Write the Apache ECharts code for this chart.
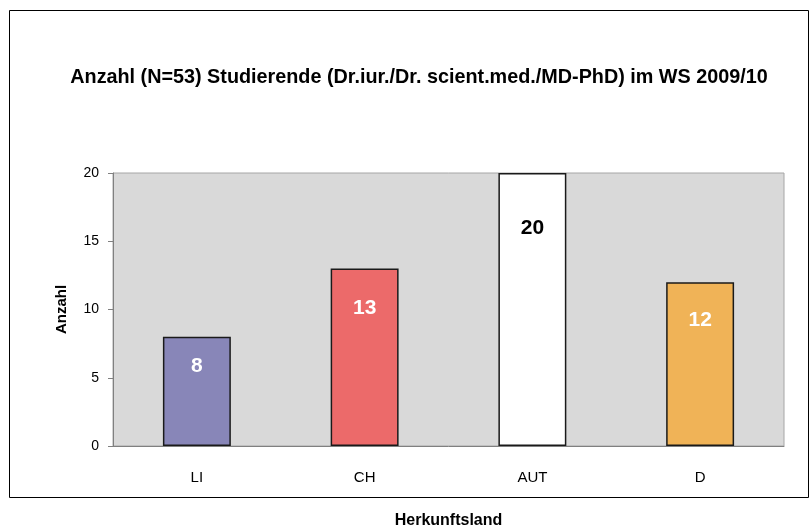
<!DOCTYPE html>
<html><head><meta charset="utf-8">
<script src="https://cdn.jsdelivr.net/npm/echarts@6/dist/echarts.min.js"></script>
<style>html,body{margin:0;padding:0;background:#fff}#c{width:811px;height:527px}</style>
</head><body><div id="c"></div>
<script>
const categories = ['LI', 'CH', 'AUT', 'D'];
const values = [8, 13, 20, 12];
const barColors = ['#8886B8', '#EC6A6A', '#FFFFFF', '#F0B357'];
const labelColors = ['#FFFFFF', '#FFFFFF', '#000000', '#FFFFFF'];
const yTicks = [0, 5, 10, 15, 20];

const chart = echarts.init(document.getElementById('c'), null, {renderer: 'canvas'});
const font = '"Liberation Sans", Arial, sans-serif';
chart.setOption({
  animation: false,
  backgroundColor: '#fff',
  textStyle: {fontFamily: font},
  title: {
    text: 'Anzahl (N=53) Studierende (Dr.iur./Dr. scient.med./MD-PhD) im WS 2009/10',
    left: 414, top: 63, textAlign: 'center',
    textStyle: {fontFamily: font, fontSize: 19.8, fontWeight: 'bold', color: '#000'}
  },
  graphic: [{
    type: 'rect', shape: {x: 9.5, y: 10.5, width: 799, height: 487},
    style: {fill: 'none', stroke: '#000', lineWidth: 1}, silent: true, z: -1
  }],
  grid: {left: 113, top: 173, right: 27, bottom: 81, show: true,
    outerBoundsMode: 'none', containLabel: false,
    backgroundColor: '#D9D9D9', borderColor: '#A6A6A6', borderWidth: 1},
  xAxis: {
    type: 'category', data: categories,
    name: 'Herkunftsland', nameLocation: 'middle', nameGap: 67,
    nameTextStyle: {fontFamily: font, fontSize: 16, fontWeight: 'bold', color: '#000'},
    axisLine: {lineStyle: {color: '#808080', width: 1}},
    axisTick: {show: false},
    axisLabel: {fontFamily: font, fontSize: 15, color: '#000', margin: 24}
  },
  yAxis: {
    type: 'value', min: yTicks[0], max: yTicks[yTicks.length - 1], interval: 5,
    name: 'Anzahl', nameLocation: 'middle', nameGap: 44, nameRotate: 90,
    nameTextStyle: {fontFamily: font, fontSize: 15, fontWeight: 'bold', color: '#000'},
    axisLine: {show: true, lineStyle: {color: '#808080', width: 1}},
    axisTick: {show: true, length: 5, lineStyle: {color: '#808080'}},
    splitLine: {show: false},
    axisLabel: {fontFamily: font, fontSize: 14, color: '#000', margin: 14}
  },
  series: [{
    type: 'bar', barWidth: '40.5%',
    data: values.map((v, i) => ({
      value: v,
      itemStyle: {color: barColors[i]},
      label: {color: labelColors[i]}
    })),
    itemStyle: {borderColor: '#1a1a1a', borderWidth: 1.5},
    label: {show: true, position: ['50%', '15.3%'], offset: [0, 13], align: 'center', verticalAlign: 'middle',
      fontFamily: font, fontSize: 21, fontWeight: 'bold'}
  }]
});
</script></body></html>
